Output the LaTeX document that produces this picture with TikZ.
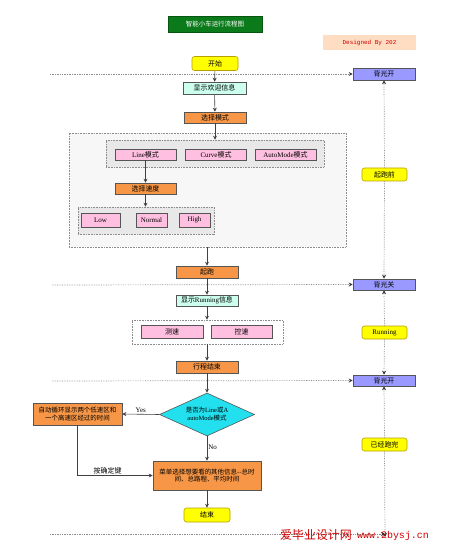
\documentclass[tikz,border=0pt]{standalone}
\usepackage{fontspec}
\setmainfont{Liberation Serif}
\setmonofont{Liberation Mono}
\newfontfamily\cjk{Noto Sans CJK SC}
\newcommand\zh[1]{{\cjk #1}}
\usetikzlibrary{arrows.meta,shapes.geometric}
\definecolor{orgF}{HTML}{F79646}
\definecolor{aquaF}{HTML}{CCFFEE}
\definecolor{pinkF}{HTML}{FFBFE0}
\definecolor{blueF}{HTML}{9999FF}
\definecolor{yelF}{HTML}{FFFF00}
\definecolor{yelD}{HTML}{B8A000}
\definecolor{greenF}{HTML}{0B7A1A}
\definecolor{peachF}{HTML}{FFDDC2}
\definecolor{cyanF}{HTML}{22E0EE}
\definecolor{edgeC}{HTML}{555555}
\definecolor{redT}{HTML}{CC0000}
\tikzset{
  base/.style={draw=edgeC, line width=0.6pt, inner sep=0pt, align=center, font=\fontsize{7}{8.5}\selectfont},
  ob/.style={base, fill=orgF, minimum width=62bp, minimum height=12bp},
  ab/.style={base, fill=aquaF, minimum width=62bp, minimum height=12bp},
  pb/.style={base, fill=pinkF, minimum width=61bp, minimum height=11bp},
  bb/.style={base, fill=blueF, minimum width=62bp, minimum height=12bp},
  yp/.style={base, draw=yelD, fill=yelF, rounded corners=2.5bp, minimum width=46bp, minimum height=14bp},
  cont/.style={draw=black!45, densely dotted, line width=0.6pt, inner sep=0pt},
  arr/.style={draw=black!75, line width=0.6pt, -{Stealth[length=4bp,width=4bp]}},
  dot/.style={draw=black!45, densely dotted, line width=0.7pt},
  dotarr/.style={dot, -{Stealth[length=4bp,width=4bp,black!80]}},
  lbl/.style={font=\fontsize{7}{8}\selectfont, inner sep=1pt}
}
\begin{document}
\begin{tikzpicture}[x=1bp,y=-1bp]
\useasboundingbox (0,0) rectangle (453,549);
% title
\node[base, draw=greenF!70!black, fill=greenF, text=white, minimum width=94bp, minimum height=16bp, font=\fontsize{6.5}{8}\selectfont] (title) at (215,24) {\zh{智能小车运行流程图}};
\node[fill=peachF, minimum width=93bp, minimum height=15bp, inner sep=0pt, text=redT, font=\ttfamily\fontsize{6}{7}\selectfont] (designed) at (369.5,42.5) {Designed By 202};
% containers
\node[cont, fill=black!3, minimum width=277bp, minimum height=114bp] (big) at (207.5,190) {};
\node[cont, fill=black!9, minimum width=218bp, minimum height=27bp] (c1) at (215,153.5) {};
\node[cont, fill=black!9, minimum width=136bp, minimum height=27bp] (c2) at (146,220.5) {};
\node[cont, fill=white, minimum width=151bp, minimum height=24bp] (c3) at (207.5,332) {};
% main column
\node[yp] (start) at (215,63.5) {\zh{开始}};
\node[ab, minimum width=63bp] (welcome) at (214.5,88) {\zh{显示欢迎信息}};
\node[ob, minimum height=11bp] (selmode) at (215,117.5) {\zh{选择模式}};
\node[pb] (line) at (145.5,154.5) {Line\zh{模式}};
\node[pb] (curve) at (216,154.5) {Curve\zh{模式}};
\node[pb] (auto) at (285.5,154.5) {AutoMode\zh{模式}};
\node[ob, minimum width=61bp, minimum height=11bp] (selspeed) at (145.5,188.5) {\zh{选择速度}};
\node[pb, minimum width=39bp, minimum height=14bp] (low) at (100.5,220) {Low};
\node[pb, minimum width=31bp, minimum height=14bp] (normal) at (151.5,220) {Normal};
\node[pb, minimum width=31bp, minimum height=14bp] (high) at (194.5,220) {High};
\node[ob] (qipao) at (207,272) {\zh{起跑}};
\node[ab, minimum height=11bp] (runinfo) at (207,300.5) {\zh{显示}Running\zh{信息}};
\node[pb, minimum width=62bp, minimum height=13bp] (cesu) at (172,331.5) {\zh{测速}};
\node[pb, minimum width=61bp, minimum height=13bp] (kongsu) at (241.5,331.5) {\zh{控速}};
\node[ob] (trip) at (207,367) {\zh{行程结束}};
\node[base, diamond, fill=cyanF, minimum width=95bp, minimum height=43bp, aspect=2.2, font=\fontsize{6.5}{8}\selectfont] (dia) at (207,414.5) {};
\node[font=\fontsize{6.5}{8}\selectfont, align=center, inner sep=0pt] (diat) at (dia.center) {\zh{是否为}Line\zh{或}A\\autoMode\zh{模式}};
\node[ob, minimum width=89bp, minimum height=22bp, font=\fontsize{6.5}{8}\selectfont] (left) at (77.5,414) {\zh{自动循环显示两个低速区和}\\\zh{一个高速区经过的时间}};
\node[ob, minimum width=108bp, minimum height=29bp, font=\fontsize{6.5}{8}\selectfont] (menu) at (207,475.5) {\zh{菜单选择想要看的其他信息--总时}\\\zh{间、总路程、平均时间}};
\node[yp] (end) at (207,515) {\zh{结束}};
% right column
\node[bb] (bl1) at (384,74) {\zh{背光开}};
\node[bb, minimum height=11bp] (bl2) at (384,284.5) {\zh{背光关}};
\node[bb, minimum height=11bp] (bl3) at (384,380.5) {\zh{背光开}};
\node[yp, minimum width=45bp, minimum height=13bp] (pre) at (384.5,174.5) {\zh{起跑前}};
\node[yp, minimum width=45bp, minimum height=13bp] (runl) at (384.5,332.5) {Running};
\node[yp, minimum width=45bp, minimum height=13bp] (done) at (384.5,444.5) {\zh{已经跑完}};
% dotted time lines
\coordinate (h1) at (50,74);
\coordinate (h2) at (52,285);
\coordinate (h3) at (52,381);
\coordinate (h4s) at (50,534);
\coordinate (h4e) at (385,534);
\draw[dotarr] (h1) -- (bl1.west);
\draw[dotarr] (h2) -- (bl2.west);
\draw[dotarr] (h3) -- (bl3.west);
\draw[dotarr] (h4s) -- (h4e);
\draw[dotarr] (pre.north) -- (bl1.south);
\draw[dotarr] (pre.south) -- (bl2.north);
\draw[dotarr] (runl.north) -- (bl2.south);
\draw[dotarr] (runl.south) -- (bl3.north);
\draw[dotarr] (done.north) -- (bl3.south);
\draw[dotarr] (done.south) -- ([yshift=-3bp]h4e);
% connectors
\draw[arr] (start) -- (welcome);
\draw[arr] (welcome) -- (selmode);
\draw[arr] (selmode.south) -- (selmode.south |- c1.north);
\draw[arr] (line) -- (selspeed);
\draw[arr] (selspeed.south) -- (selspeed.south |- c2.north);
\draw[arr] (qipao.north |- big.south) -- (qipao.north);
\draw[arr] (qipao) -- (runinfo);
\draw[arr] (runinfo.south) -- (runinfo.south |- c3.north);
\draw[arr] (trip.north |- c3.south) -- (trip.north);
\draw[arr] (trip) -- (dia.north);
\draw[arr] (dia.west) -- node[lbl, above, pos=0.5] (yes) {Yes} (left.east);
\draw[arr] (dia.south) -- node[lbl, right, pos=0.45] (no) {No} (menu.north);
\draw[arr] (left.south) |- node[lbl, above, pos=0.7] (key) {\zh{按确定键}} (menu.west);
\draw[arr] (menu) -- (end);
% watermark
\node[text=redT, font=\cjk\fontsize{12}{13}\selectfont, inner sep=0pt] (wm1) at (316,535) {爱毕业设计网};
\node[text=redT, font=\ttfamily\fontsize{10}{11}\selectfont, inner sep=0pt] (wm2) at (393,536) {www.2bysj.cn};
\end{tikzpicture}
\end{document}
